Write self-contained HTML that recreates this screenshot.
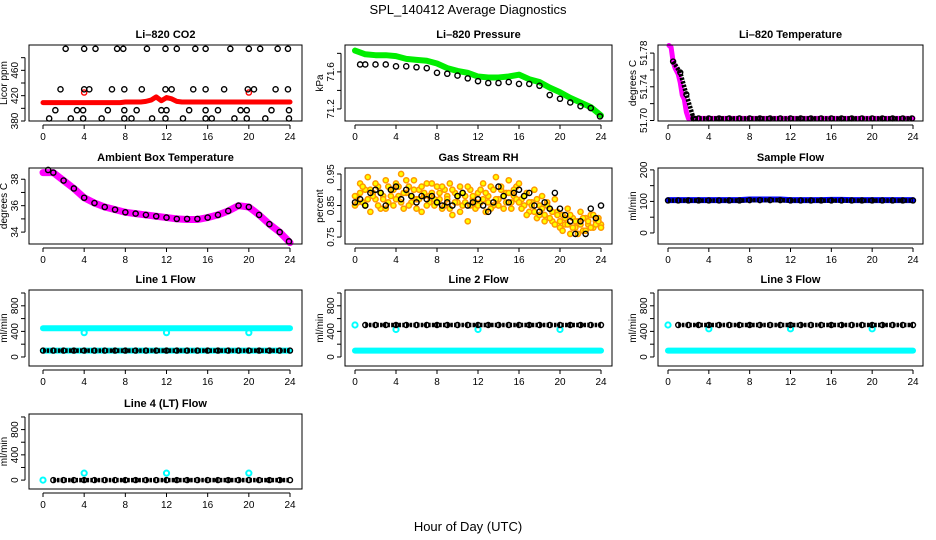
<!DOCTYPE html>
<html><head><meta charset="utf-8"><style>
html,body{margin:0;padding:0;background:#fff;}
svg{display:block;font-family:"Liberation Sans",Arial,sans-serif;}
</style></head><body>
<svg id="chart" width="936" height="540" viewBox="0 0 936 540">
<text x="468" y="14" text-anchor="middle" font-size="13">SPL_140412  Average Diagnostics</text>
<text x="468" y="531" text-anchor="middle" font-size="13">Hour of Day (UTC)</text>
</svg>
<script>
// ---------- data ----------
const hours = [0,1,2,3,4,5,6,7,8,9,10,11,12,13,14,15,16,17,18,19,20,21,22,23,24];
const halfHours = [0,0.5,1,1.5,2,2.5,3,3.5,4,4.5,5,5.5,6,6.5,7,7.5,8,8.5,9,9.5,10,10.5,11,11.5,12,12.5,13,13.5,14,14.5,15,15.5,16,16.5,17,17.5,18,18.5,19,19.5,20,20.5,21,21.5,22,22.5,23,23.5,24];
const xTicks = [0,4,8,12,16,20,24];

const co2Red = [409,409,409,409,409,409,409,409,409,409,409,409,409,409,409,409,410,410,410,410,411,413,418,412,417,415,411,410,410,410,410,410,410,410,410,410,410,410,410,410,410,410,410,410,410,410,410,410,410];
const co2RedOutX = [4,20];
const co2RedOut = [425,425];
const co2BlackX = [2.2,4,5.1,7.2,7.8,10.1,11.9,13,14.8,15.8,18.2,20,21.1,22.8,23.8, 1.7,4,4.5,6.7,7.9,9.6,11.9,12.5,14.6,15.8,17.6,19.9,20.5,22.6,23.8, 1.2,3.3,3.9,6.3,7.9,9.1,11.5,12,14.2,15.8,17,19.2,19.8,22.2,23.9, 0.6,2.7,3.9,5.7,7.9,8.6,10.6,11.9,13.6,15.8,16.4,18.6,19.8,21.6,23.9];
const co2Black = [494,494,494,494,494,494,494,494,494,494,494,494,494,494,494, 430,430,430,430,430,430,430,430,430,430,430,430,430,430,430, 397,397,397,397,397,397,397,397,397,397,397,397,397,397,397, 384,384,384,384,384,384,384,384,384,384,384,384,384,384,384];

const presGreen = [71.83,71.79,71.78,71.78,71.77,71.74,71.73,71.72,71.69,71.64,71.61,71.59,71.55,71.54,71.54,71.55,71.57,71.52,71.49,71.43,71.38,71.32,71.27,71.22,71.13];
const presBlackX = [0.5,1,2,3,4,5,6,7,8,9,10,11,12,13,14,15,16,17,18,19,20,21,22,23,23.9];
const presBlack = [71.68,71.68,71.68,71.68,71.66,71.66,71.65,71.64,71.59,71.58,71.56,71.53,71.50,71.48,71.48,71.49,71.47,71.47,71.45,71.35,71.31,71.27,71.23,71.21,71.12];

const tempMagX = [0.1,0.3,0.5,0.7,1,1.2,1.4,1.6,1.8,2,3,4,5,6,7,8,9,10,11,12,13,14,15,16,17,18,19,20,21,22,23,24];
const tempMag = [51.789,51.787,51.770,51.762,51.755,51.745,51.730,51.725,51.710,51.7025,51.7025,51.7025,51.7025,51.7025,51.7025,51.7025,51.7025,51.7025,51.7025,51.7025,51.7025,51.7025,51.7025,51.7025,51.7025,51.7025,51.7025,51.7025,51.7025,51.7025,51.7025,51.7025];
const tempBlackX = [0.5,1.2,1.8,2.5,3,4,5,6,7,8,9,10,11,12,13,14,15,16,17,18,19,20,21,22,23,23.9];
const tempBlack = [51.770,51.757,51.731,51.7025,51.7025,51.7025,51.7025,51.7025,51.7025,51.7025,51.7025,51.7025,51.7025,51.7025,51.7025,51.7025,51.7025,51.7025,51.7025,51.7025,51.7025,51.7025,51.7025,51.7025,51.7025,51.7025];

const ambMag = [38.5,38.5,37.9,37.3,36.6,36.2,35.9,35.7,35.5,35.4,35.3,35.2,35.1,35.0,34.95,34.95,35.1,35.3,35.6,36.0,35.9,35.3,34.6,34.0,33.2];
const ambBlackX = [0.5,1,2,3,4,5,6,7,8,9,10,11,12,13,14,15,16,17,18,19,20,21,22,23,23.9];
const ambBlack = [38.7,38.5,37.9,37.3,36.6,36.2,35.9,35.7,35.5,35.4,35.3,35.2,35.1,35.0,35.0,35.0,35.1,35.3,35.6,36.0,35.9,35.3,34.6,34.0,33.3];

const rhOrangeA = [.85,.88,.92,.86,.90,.94,.83,.89,.87,.91,.84,.88,.93,.86,.90,.85,
 .92,.88,.95,.84,.89,.91,.86,.93,.87,.90,.83,.88,.92,.86,.89,.85,
 .91,.87,.84,.90,.88,.92,.82,.89,.86,.91,.85,.88,.80,.90,.87,.84,
 .89,.86,.92,.83,.88,.91,.85,.94,.87,.90,.84,.89,.93,.86,.88,.91,
 .92,.87,.85,.89,.83,.86,.90,.81,.85,.88,.82,.86,.84,.80,.87,.83,
 .78,.82,.79,.84,.76,.81,.78,.80,.83,.77,.81,.79,.82,.78,.80,.81,.79];
const rhOrangeB = [.88,.86,.89,.91,.85,.87,.90,.88,.92,.85,.89,.87,.84,.91,.88,.90,
 .87,.91,.86,.89,.93,.85,.88,.90,.84,.87,.91,.89,.85,.88,.92,.87,
 .86,.89,.91,.85,.87,.84,.90,.86,.88,.83,.89,.86,.91,.85,.88,.86,
 .85,.90,.87,.89,.86,.84,.90,.87,.85,.91,.88,.86,.89,.84,.90,.87,
 .86,.84,.88,.82,.86,.85,.83,.87,.82,.84,.80,.85,.81,.83,.79,.82,
 .80,.77,.81,.79,.82,.78,.80,.76,.79,.81,.77,.80,.78,.82,.79,.80,.78];
const rhBlack = [.86,.87,.85,.89,.90,.89,.85,.90,.91,.87,.90,.88,.86,.88,.87,.88,.86,.85,.86,.85,.88,.89,.85,.86,.87,.85,.83,.86,.91,.88,.86,.89,.90,.88,.89,.85,.83,.86,.84,.89,.84,.82,.80,.76,.80,.76,.84,.81,.85];

const sampleBlue = [104,104,104,104,104,104,104,104,106,106,106,106,104,104,104,104,105,105,104,104,104,104,104,104,104];
const sampleBlack = [103,103,103,103,103,103,103,103,104,104,104,104,103,103,103,103,103,103,103,103,103,103,103,103,103];

const flowHi = [450,450,450,450,450,450,450,450,450,450,450,450,450,450,450,450,450,450,450,450,450,450,450,450,450];
const flowLo = [100,100,100,100,100,100,100,100,100,100,100,100,100,100,100,100,100,100,100,100,100,100,100,100,100];
const flowBlackLo = [100,100,100,100,100,100,100,100,100,100,100,100,100,100,100,100,100,100,100,100,100,100,100,100,100];
const flowBlackHi = [500,500,500,500,500,500,500,500,500,500,500,500,500,500,500,500,500,500,500,500,500,500,500,500,500];
const flowZero = [0,0,0,0,0,0,0,0,0,0,0,0,0,0,0,0,0,0,0,0,0,0,0,0,0];
const dipX = [4,12,20];
const line1Dip = [380,380,380];
const line2Dip = [430,430,430];
const line3Dip = [440,440,440];
const line4Spike = [110,110,110];
const startX = [0];
const line2Start = [500];
const line4Start = [0];

// ---------- layout ----------
const NS = 'http://www.w3.org/2000/svg';
const svg = document.getElementById('chart');
const colX0 = [43,355,668], colX24 = [290,601,913];
const boxL = [29,345,658], boxR = [302,612,923];
const boxT = [45,168,290,414], boxB = [121,244,366,489];

function mk(tag, attrs, parent){
  const e = document.createElementNS(NS, tag);
  for (const k in attrs) e.setAttribute(k, attrs[k]);
  (parent||svg).appendChild(e);
  return e;
}

function panel(name, col, row, title, ylab, ylim, ticks, labs, series){
  const g = mk('g', {});
  
  
  const xs = h => colX0[col] + h*(colX24[col]-colX0[col])/24;
  const ys = v => boxB[row] - (v-ylim[0])/(ylim[1]-ylim[0])*(boxB[row]-boxT[row]);
  series.forEach(s => {
    const sg = mk('g', {}, g);
    
    
    const pts = s.y.map((v,i)=>[xs(s.x[i]), ys(v)]);
    if (s.type === 'band') {
      const pl = mk('polyline', {points: pts.map(p=>p.join(',')).join(' '), fill:'none', stroke:s.color, 'stroke-width':s.w||6, 'stroke-linejoin':'round','stroke-linecap':'round'}, sg);
      
      
    } else if (s.type === 'chain') {
      const pl = mk('polyline', {points: pts.map(p=>p.join(',')).join(' '), fill:'none', stroke:s.color, 'stroke-width':4.5, 'stroke-dasharray':'2.5 1.2'}, sg);
      
      
      pts.forEach(p => {
        const c = mk('circle', {cx:p[0], cy:p[1], r:2.5, fill:'none', stroke:s.color, 'stroke-width':1.4}, sg);
        
        
      });
    } else if (s.type === 'cloud') {
      pts.forEach(p => {
        const c = mk('circle', {cx:p[0], cy:p[1], r:2.6, fill:'#ffff00', stroke:'#ff9900', 'stroke-width':1.5}, sg);
        
        
      });
    } else {
      pts.forEach(p => {
        const c = mk('circle', {cx:p[0], cy:p[1], r:s.r||2.6, fill:'none', stroke:s.color, 'stroke-width':s.sw||1.4}, sg);
        
        
      });
    }
  });
  const box = mk('rect', {x:boxL[col], y:boxT[row], width:boxR[col]-boxL[col], height:boxB[row]-boxT[row], fill:'none', stroke:'#000', 'stroke-width':1}, g);
  
  
  const t = mk('text', {x:(boxL[col]+boxR[col])/2, y:boxT[row]-7, 'text-anchor':'middle', 'font-size':11, 'font-weight':'bold'}, g);
  t.textContent = title;
  
  
  const xa = mk('g', {}, g);
  
  
  const yb = boxB[row];
  mk('line', {x1:xs(0), x2:xs(24), y1:yb+4, y2:yb+4, stroke:'#000'}, xa);
  xTicks.forEach(h => {
    mk('line', {x1:xs(h), x2:xs(h), y1:yb+4, y2:yb+8, stroke:'#000'}, xa);
    const l = mk('text', {x:xs(h), y:yb+19, 'text-anchor':'middle', 'font-size':10}, xa);
    l.textContent = h;
    
    
  });
  const ya = mk('g', {}, g);
  
  
  const xl = boxL[col];
  mk('line', {x1:xl-4, x2:xl-4, y1:ys(ticks[0]), y2:ys(ticks[ticks.length-1]), stroke:'#000'}, ya);
  ticks.forEach(v => mk('line', {x1:xl-8, x2:xl-4, y1:ys(v), y2:ys(v), stroke:'#000'}, ya));
  labs.forEach(v => {
    const yy = ys(v[0]);
    const l = mk('text', {x:xl-11, y:yy, 'text-anchor':'middle', 'font-size':10, transform:`rotate(-90 ${xl-11} ${yy})`}, ya);
    l.textContent = v[1];
    
    
  });
  const ymid = (boxT[row]+boxB[row])/2;
  const yl = mk('text', {x:xl-22, y:ymid, 'text-anchor':'middle', 'font-size':10, transform:`rotate(-90 ${xl-22} ${ymid})`}, ya);
  yl.textContent = ylab;
  
  
}

const flowTicks = [0,200,400,600,800,1000];
const flowLabs = [[0,'0'],[400,'400'],[800,'800']];

panel('co2', 0, 0, 'Li–820 CO2', 'Licor ppm', [380,500], [380,400,420,440,460,480], [[380,'380'],[420,'420'],[460,'460']], [
  {name:'co2-red-series', type:'band', x:halfHours, y:co2Red, color:'#ff0000', w:5},
  {name:'co2-red-outliers', type:'pts', x:co2RedOutX, y:co2RedOut, color:'#ff0000'},
  {name:'co2-black-series', type:'pts', x:co2BlackX, y:co2Black, color:'#000'}
]);
panel('pressure', 1, 0, 'Li–820 Pressure', 'kPa', [71.07,71.89], [71.2,71.4,71.6,71.8], [[71.2,'71.2'],[71.6,'71.6']], [
  {name:'pressure-green-series', type:'band', x:hours, y:presGreen, color:'#00ee00', w:6},
  {name:'pressure-black-series', type:'pts', x:presBlackX, y:presBlack, color:'#000'}
]);
panel('li820-temp', 2, 0, 'Li–820 Temperature', 'degrees C', [51.6994,51.7896], [51.70,51.72,51.74,51.76,51.78], [[51.70,'51.70'],[51.74,'51.74'],[51.78,'51.78']], [
  {name:'temp-magenta-series', type:'band', x:tempMagX, y:tempMag, color:'#ff00ff', w:5},
  {name:'temp-black-series', type:'chain', x:tempBlackX, y:tempBlack, color:'#000'}
]);
panel('ambient-temp', 0, 1, 'Ambient Box Temperature', 'degrees C', [33.1,38.85], [34,35,36,37,38], [[34,'34'],[36,'36'],[38,'38']], [
  {name:'ambient-magenta-series', type:'band', x:hours, y:ambMag, color:'#ff00ff', w:7},
  {name:'ambient-black-series', type:'pts', x:ambBlackX, y:ambBlack, color:'#000'}
]);
const quarterHours = rhOrangeA.map((_,i)=>i*0.25);
panel('rh', 1, 1, 'Gas Stream RH', 'percent', [0.728,0.969], [0.75,0.80,0.85,0.90,0.95], [[0.75,'0.75'],[0.85,'0.85'],[0.95,'0.95']], [
  {name:'rh-orange-series-a', type:'cloud', x:quarterHours, y:rhOrangeA},
  {name:'rh-orange-series-b', type:'cloud', x:quarterHours, y:rhOrangeB},
  {name:'rh-black-series', type:'pts', x:halfHours, y:rhBlack, color:'#000'}
]);
panel('sample-flow', 2, 1, 'Sample Flow', 'ml/min', [-35,206], [0,50,100,150,200], [[0,'0'],[100,'100'],[200,'200']], [
  {name:'sample-blue-series', type:'band', x:hours, y:sampleBlue, color:'#0000ff', w:6},
  {name:'sample-black-series', type:'chain', x:hours, y:sampleBlack, color:'#000'}
]);
panel('line1-flow', 0, 2, 'Line 1 Flow', 'ml/min', [-141,1047], flowTicks, flowLabs, [
  {name:'line1-cyan-high', type:'band', x:hours, y:flowHi, color:'#00ffff', w:6},
  {name:'line1-cyan-low', type:'band', x:hours, y:flowLo, color:'#00ffff', w:6},
  {name:'line1-cyan-dips', type:'pts', x:dipX, y:line1Dip, color:'#00ffff', sw:2},
  {name:'line1-black-series', type:'chain', x:hours, y:flowBlackLo, color:'#000'}
]);
panel('line2-flow', 1, 2, 'Line 2 Flow', 'ml/min', [-141,1047], flowTicks, flowLabs, [
  {name:'line2-cyan-low', type:'band', x:hours, y:flowLo, color:'#00ffff', w:6},
  {name:'line2-cyan-start', type:'pts', x:startX, y:line2Start, color:'#00ffff', sw:2},
  {name:'line2-cyan-dips', type:'pts', x:dipX, y:line2Dip, color:'#00ffff', sw:2},
  {name:'line2-black-series', type:'chain', x:hours.slice(1), y:flowBlackHi.slice(1), color:'#000'}
]);
panel('line3-flow', 2, 2, 'Line 3 Flow', 'ml/min', [-141,1047], flowTicks, flowLabs, [
  {name:'line3-cyan-low', type:'band', x:hours, y:flowLo, color:'#00ffff', w:6},
  {name:'line3-cyan-start', type:'pts', x:startX, y:line2Start, color:'#00ffff', sw:2},
  {name:'line3-cyan-dips', type:'pts', x:dipX, y:line3Dip, color:'#00ffff', sw:2},
  {name:'line3-black-series', type:'chain', x:hours.slice(1), y:flowBlackHi.slice(1), color:'#000'}
]);
panel('line4-flow', 0, 3, 'Line 4 (LT) Flow', 'ml/min', [-141,1047], flowTicks, flowLabs, [
  {name:'line4-cyan-start', type:'pts', x:startX, y:line4Start, color:'#00ffff', sw:2},
  {name:'line4-cyan-spikes', type:'pts', x:dipX, y:line4Spike, color:'#00ffff', sw:2},
  {name:'line4-black-series', type:'chain', x:hours.slice(1), y:flowZero.slice(1), color:'#000'}
]);
</script>
</body></html>
